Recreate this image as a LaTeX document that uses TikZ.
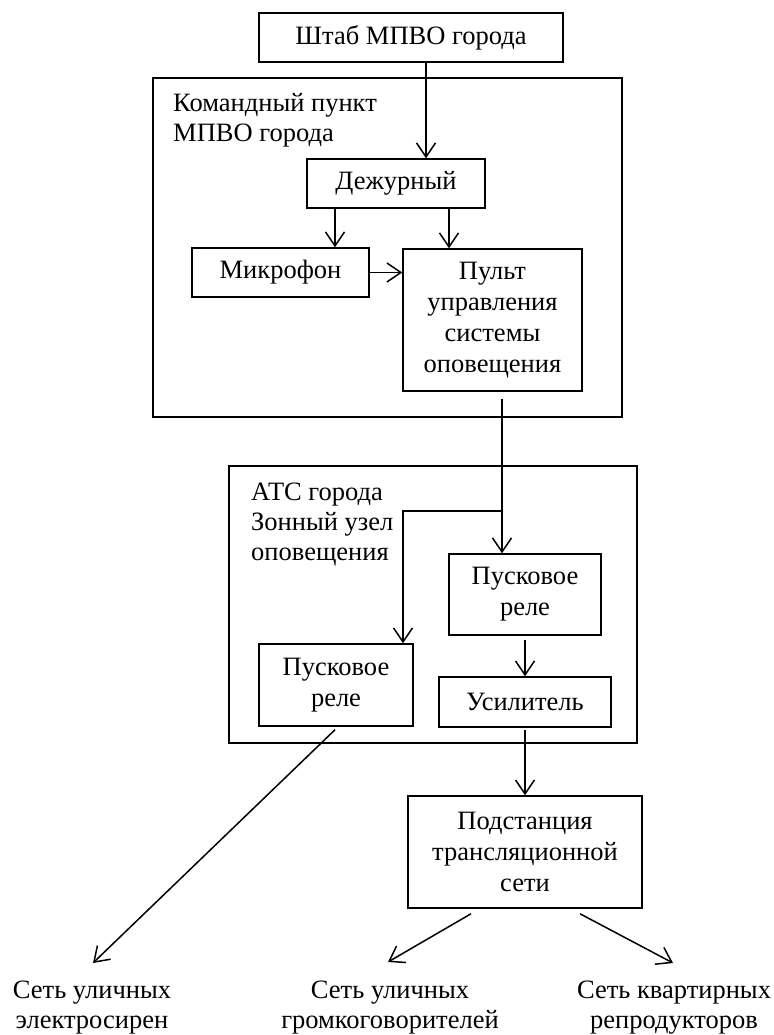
\documentclass[tikz,border=0pt]{standalone}
\usepackage{fontspec}
\setmainfont{Liberation Serif}
\usetikzlibrary{arrows.meta,calc}
\begin{document}
\begin{tikzpicture}[x=1pt,y=-1pt,
  lw/.style={line width=1.5pt},
  box/.style={draw,lw,inner sep=0pt,align=center,font=\fontsize{26.5}{31}\selectfont},
  frame/.style={draw,lw,inner sep=0pt},
  lbl/.style={align=left,inner sep=0pt,font=\fontsize{26.5}{30}\selectfont},
  endlbl/.style={align=center,inner sep=0pt,font=\fontsize{26.5}{30}\selectfont},
  arr/.style={lw,-{Straight Barb[length=14pt,width=19pt]}}]
\useasboundingbox (0,0) rectangle (773,1035);
% frames
\node[frame,minimum width=469pt,minimum height=339pt] (kp) at (387.5,247.5) {};
\node[frame,minimum width=408pt,minimum height=277pt] (ats) at (433,604.5) {};
\node[lbl,anchor=base west] (kplbl) at (173,142) {Командный пункт\\МПВО города};
\node[lbl,anchor=base west] (atslbl) at (251,560) {АТС города\\Зонный узел\\оповещения};
% boxes
\node[box,minimum width=304pt,minimum height=49pt] (shtab) at (411,37.5) {Штаб МПВО города};
\node[box,minimum width=178pt,minimum height=49pt] (dezh) at (396,183.5) {Дежурный};
\node[box,minimum width=177pt,minimum height=49pt] (mic) at (280.5,272.5) {Микрофон};
\node[box,minimum width=179pt,minimum height=142pt] (pult) at (492.5,320) {Пульт\\управления\\системы\\оповещения};
\node[box,minimum width=152pt,minimum height=81pt] (rrelay) at (525,594.5) {Пусковое\\реле};
\node[box,minimum width=154pt,minimum height=82pt] (lrelay) at (336,685) {Пусковое\\реле};
\node[box,minimum width=172pt,minimum height=50pt] (amp) at (525,702) {Усилитель};
\node[box,minimum width=234pt,minimum height=112pt] (podst) at (525,852) {Подстанция\\трансляционной\\сети};
% end labels
\node[endlbl,anchor=base] (sir) at (92,1028) {Сеть уличных\\электросирен};
\node[endlbl,anchor=base] (grom) at (390,1028) {Сеть уличных\\громкоговорителей};
\node[endlbl,anchor=base] (repr) at (674,1028) {Сеть квартирных\\репродукторов};
% helper coordinates
\coordinate (c1) at (335,0);
\coordinate (c2) at (449,0);
\coordinate (c3) at (502,0);
\coordinate (c4) at (403,0);
\coordinate (a1) at ($(shtab.south)+(15,0)$);
\coordinate (p1) at ($(pult.south -| c3)+(0,7)$);
\coordinate (br) at (502,511);
% connectors
\draw[arr] (a1) -- (a1 |- dezh.north);
\draw[arr] (dezh.south -| c1) -- (mic.north -| c1);
\draw[arr] (dezh.south -| c2) -- (pult.north -| c2);
\draw[arr] (mic.east) -- (mic.east -| pult.west);
\draw[arr] (p1) -- (p1 |- rrelay.north);
\draw[arr] (br) -- (br -| c4) -- (lrelay.north -| c4);
\draw[arr] ($(rrelay.south)+(0,4)$) -- (rrelay.south |- amp.north);
\draw[arr] ($(amp.south)+(0,2)$) -- (podst.north);
\draw[arr] ($(lrelay.south)+(-1,3)$) -- ($(sir.base)+(1,-65)$);
\draw[arr] ($(podst.south)+(-54,5)$) -- ($(grom.base)+(-2,-66)$);
\draw[arr] ($(podst.south)+(55,5)$) -- ($(repr.base)+(-1,-65)$);
\end{tikzpicture}
\end{document}
